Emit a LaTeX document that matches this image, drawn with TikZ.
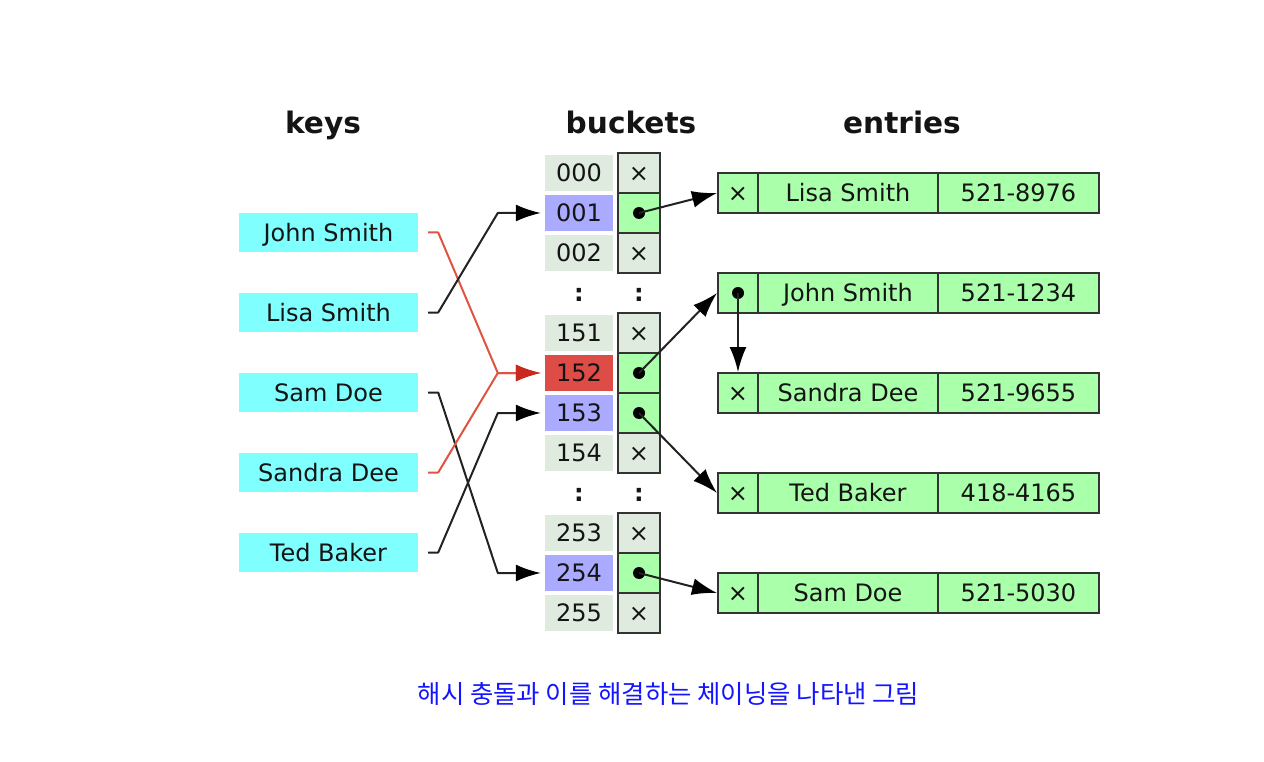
\documentclass[tikz,border=0pt]{standalone}
\usepackage{fontspec}
\setmainfont{DejaVu Sans}
\newfontfamily\cjk{Noto Sans CJK KR}
\usetikzlibrary{arrows.meta}
\definecolor{keyc}{RGB}{128,255,255}
\definecolor{lightc}{RGB}{224,235,224}
\definecolor{bluec}{RGB}{170,170,255}
\definecolor{redc}{RGB}{221,76,70}
\definecolor{greenc}{RGB}{170,255,170}
\definecolor{borderc}{RGB}{51,51,51}
\definecolor{linec}{RGB}{34,34,34}
\definecolor{textc}{RGB}{20,20,20}
\definecolor{redline}{RGB}{222,84,64}
\definecolor{redtip}{RGB}{200,40,30}
\definecolor{capc}{RGB}{20,20,255}
\begin{document}
\begin{tikzpicture}[x=1pt,y=-1pt,
  txt/.style={font=\fontsize{24}{24}\selectfont, text=textc, inner sep=0pt, text height=17.5pt, text depth=0pt},
  head/.style={font=\bfseries\fontsize{29.6}{29.6}\selectfont, text=textc, inner sep=0pt, anchor=base},
  keybox/.style={txt, fill=keyc, minimum width=179pt, minimum height=39pt},
  num/.style={txt, minimum width=68pt, minimum height=36pt},
  ptr/.style={txt, draw=borderc, line width=2pt, minimum width=42pt, minimum height=40pt},
  ent/.style={txt, draw=borderc, line width=2pt, fill=greenc, minimum height=40pt},
  dotn/.style={circle, fill=black, inner sep=0pt, minimum size=12pt},
  conn/.style={draw=linec, line width=2pt, -{Latex[length=25pt,width=17pt,color=black,fill=black]}},
  keyline/.style={conn, line join=round},
  redconn/.style={draw=redline, line width=2pt, line join=round, -{Latex[length=25pt,width=17pt,color=redtip,fill=redtip]}},
  colon/.style={txt, font=\bfseries\fontsize{24}{24}\selectfont},
]
\useasboundingbox (0,0) rectangle (1264,762);

% headings
\node[head] (hk) at (323,134) {keys};
\node[head] (hb) at (631,134) {buckets};
\node[head] (he) at (902,134) {entries};

% keys
\node[keybox] (k1) at (328.5,232.5) {John Smith};
\node[keybox] (k2) at (328.5,312.5) {Lisa Smith};
\node[keybox] (k3) at (328.5,392.5) {Sam Doe};
\node[keybox] (k4) at (328.5,472.5) {Sandra Dee};
\node[keybox] (k5) at (328.5,552.5) {Ted Baker};

% buckets with empty pointers
\foreach \n/\y in {000/173, 002/253, 151/333, 154/453, 253/533, 255/613} {
  \node[num, fill=lightc] (b\n) at (579,\y) {\n};
  \node[ptr, fill=lightc] (p\n) at (639,\y) {×};
}
% buckets with pointers
\foreach \n/\y/\c in {001/213/bluec, 152/373/redc, 153/413/bluec, 254/573/bluec} {
  \node[num, fill=\c] (b\n) at (579,\y) {\n};
  \node[ptr, fill=greenc] (p\n) at (639,\y) {};
  \node[dotn] (d\n) at (p\n.center) {};
}
% ellipsis marks
\node[colon] (c1) at (579,293) {:};
\node[colon] (c2) at (639,293) {:};
\node[colon] (c3) at (579,493) {:};
\node[colon] (c4) at (639,493) {:};

% entries
\foreach \i/\y/\nm/\ph in {1/193/Lisa Smith/521-8976, 2/293/John Smith/521-1234, 3/393/Sandra Dee/521-9655, 4/493/Ted Baker/418-4165, 5/593/Sam Doe/521-5030} {
  \node[ent, minimum width=40pt] (e\i x) at (738,\y) {};
  \node[ent, minimum width=180pt] (e\i n) at (848,\y) {\nm};
  \node[ent, minimum width=161pt] (e\i p) at (1018.5,\y) {\ph};
}
\foreach \i in {1,3,4,5} { \node[txt] (ex\i) at (e\i x.center) {×}; }
\node[dotn] (de2) at (e2x.center) {};

% key connectors
\draw[redconn] ([xshift=10pt]k1.east) -- ++(10,0) -- ([xshift=-47pt]b152.west) -- ([xshift=-4pt]b152.west);
\draw[keyline] ([xshift=10pt]k2.east) -- ++(10,0) -- ([xshift=-47pt]b001.west) -- ([xshift=-4pt]b001.west);
\draw[keyline] ([xshift=10pt]k3.east) -- ++(10,0) -- ([xshift=-47pt]b254.west) -- ([xshift=-4pt]b254.west);
\draw[redconn] ([xshift=10pt]k4.east) -- ++(10,0) -- ([xshift=-47pt]b152.west) -- ([xshift=-4pt]b152.west);
\draw[keyline] ([xshift=10pt]k5.east) -- ++(10,0) -- ([xshift=-47pt]b153.west) -- ([xshift=-4pt]b153.west);

% pointer connectors
\draw[conn] (d001.center) -- (e1x.west);
\draw[conn] (d152.center) -- (e2x.west);
\draw[conn] (d153.center) -- (e4x.west);
\draw[conn] (d254.center) -- (e5x.west);
\draw[conn] (de2.center) -- (e3x.north);

% caption
\node[font=\cjk\fontsize{25.4}{25.4}\selectfont, text=capc, inner sep=0pt] (cap) at (668.5,694) {해시 충돌과 이를 해결하는 체이닝을 나타낸 그림};
\end{tikzpicture}
\end{document}
